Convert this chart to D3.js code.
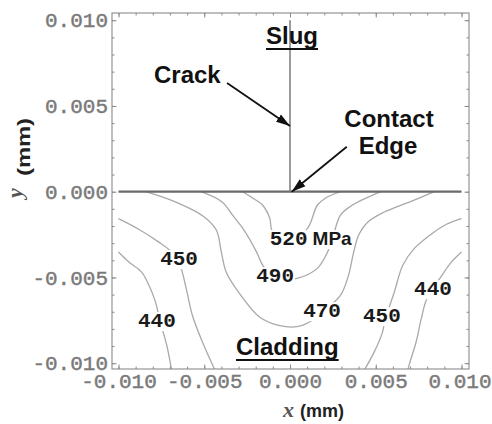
<!DOCTYPE html>
<html><head><meta charset="utf-8">
<script src="https://cdn.jsdelivr.net/npm/d3@7"></script>
<style>body{margin:0;background:#fff}</style>
</head><body><svg id="c" width="492" height="424"></svg>
<script>
// ---- data (mm) ----
const xTickValues = [-0.010, -0.005, 0.000, 0.005, 0.010];
const yTickValues = [-0.010, -0.005, 0.000, 0.005, 0.010];
const minorTickValues = d3.range(-10, 11).map(i => i / 1000);
const contourLevels = [440, 450, 470, 490, 520];

const contour440L = [[-0.0100,-0.00352],[-0.00941,-0.00409],[-0.00865,-0.00469],[-0.00818,-0.00556],[-0.00784,-0.00644],[-0.00765,-0.00722],[-0.00747,-0.00792],[-0.00718,-0.00898],[-0.00688,-0.01054]];
const contour450L = [[-0.0100,-0.00157],[-0.00882,-0.00219],[-0.00765,-0.00294],[-0.00694,-0.00348],[-0.00647,-0.00412],[-0.00628,-0.00469],[-0.00600,-0.00588],[-0.00569,-0.00722],[-0.00510,-0.00878],[-0.00431,-0.01054]];
const contour470 = [[-0.00841,0],[-0.00665,-0.00061],[-0.00500,-0.00147],[-0.00429,-0.00225],[-0.00400,-0.00354],[-0.00371,-0.00471],[-0.00294,-0.00594],[-0.00176,-0.00732],[-0.00059,-0.00781],[0.00041,-0.00787],[0.00129,-0.00751],[0.00206,-0.00687],[0.00294,-0.00605],[0.00341,-0.00488],[0.00371,-0.00354],[0.00400,-0.00254],[0.00453,-0.00178],[0.00547,-0.00120],[0.00706,-0.00056],[0.00841,0]];
const contour490 = [[-0.00518,0],[-0.00394,-0.00061],[-0.00335,-0.00137],[-0.00276,-0.00213],[-0.00194,-0.00354],[-0.00165,-0.00418],[-0.00118,-0.00488],[-0.00041,-0.00512],[0.00041,-0.00506],[0.00159,-0.00447],[0.00218,-0.00354],[0.00253,-0.00254],[0.00294,-0.00137],[0.00353,-0.00085],[0.00529,0]];
const contour520 = [[-0.00276,0],[-0.00206,-0.00044],[-0.00159,-0.00079],[-0.00118,-0.00155],[-0.00106,-0.00225],[-0.00059,-0.00272],[0.00029,-0.00272],[0.00106,-0.00208],[0.00159,-0.00079],[0.00206,-0.00038],[0.00294,0]];
const contour450R = [[0.0100,-0.00157],[0.00912,-0.00190],[0.00841,-0.00235],[0.00724,-0.00332],[0.00657,-0.00430],[0.00608,-0.00586],[0.00578,-0.00674],[0.00553,-0.00751],[0.00539,-0.00820],[0.00490,-0.00937],[0.00431,-0.01044]];
const contour440R = [[0.0100,-0.00352],[0.00941,-0.00411],[0.00872,-0.00508],[0.00835,-0.00564],[0.00794,-0.00635],[0.00765,-0.00742],[0.00735,-0.00878],[0.00696,-0.01005],[0.00685,-0.01050]];
const contours = [contour440L, contour450L, contour470, contour490, contour520, contour450R, contour440R];

const labelValues = [440, 450, 490, 470, 450, 440, 520];
const labelX = [-0.00776, -0.00647, -0.00087, 0.00187, 0.00536, 0.00834, -0.00118];
const labelY = [-0.00748, -0.00387, -0.00486, -0.00690, -0.00719, -0.00562, -0.00270];

// ---- layout ----
const svg = d3.select("#c");
const frame = {l: 112, r: 469, t: 13, b: 369};
const x = d3.scaleLinear().domain([-0.010, 0.010]).range([118.5, 461.5]);
const y = d3.scaleLinear().domain([-0.010, 0.010]).range([363.2, 20.2]);
const gray = "#8a8a8a";

const defs = svg.append("defs");
defs.append("clipPath").attr("id","clip")
  .append("rect").attr("x",frame.l).attr("y",frame.t).attr("width",frame.r-frame.l).attr("height",frame.b-frame.t);
const mk = defs.append("marker").attr("id","arr")
  .attr("markerUnits","userSpaceOnUse").attr("markerWidth",16).attr("markerHeight",10)
  .attr("refX",14).attr("refY",5).attr("orient","auto");
mk.append("path").attr("d","M0,0.5 L14,5 L0,9.5 Z").attr("fill","#111");

// contours
const line = d3.line().x(d => x(d[0])).y(d => y(d[1])).curve(d3.curveCatmullRom.alpha(0.5));
svg.append("g").attr("clip-path","url(#clip)").selectAll("path").data(contours).join("path")
  .attr("d", line).attr("fill","none").attr("stroke","#a9a9a9").attr("stroke-width",1.3);

// contact surface and crack
svg.append("line").attr("x1",x(-0.010)).attr("x2",x(0.010)).attr("y1",y(0)).attr("y2",y(0))
  .attr("stroke","#6a6a6a").attr("stroke-width",2.2);
svg.append("line").attr("x1",x(0)).attr("x2",x(0)).attr("y1",y(0)).attr("y2",y(0.010))
  .attr("stroke","#7a7a7a").attr("stroke-width",1.5);

// frame
svg.append("rect").attr("x",frame.l).attr("y",frame.t).attr("width",frame.r-frame.l).attr("height",frame.b-frame.t)
  .attr("fill","none").attr("stroke",gray).attr("stroke-width",1.1);

// axes (ticks inside)
function styleAxis(g){ g.select(".domain").remove(); g.selectAll(".tick line").attr("stroke",gray);
  g.selectAll("text").attr("font-family","'Liberation Mono', monospace").attr("font-size",21)
    .attr("fill","#7a7a7a").attr("stroke","#7a7a7a").attr("stroke-width",0.45); }
const fmt = d => d.toFixed(3);
const axes = [
  [() => d3.axisBottom(x), `translate(0,${frame.b})`, true, xTickValues],
  [() => d3.axisTop(x), `translate(0,${frame.t})`, false, xTickValues],
  [() => d3.axisLeft(y), `translate(${frame.l},0)`, true, yTickValues],
  [() => d3.axisRight(y), `translate(${frame.r},0)`, false, yTickValues]
];
axes.forEach(([mkAx, tr, lab, vals]) => {
  svg.append("g").attr("transform",tr).call(mkAx().tickValues(minorTickValues).tickSize(-2.5).tickSizeOuter(0).tickFormat("")).call(styleAxis);
  const g = svg.append("g").attr("transform",tr).call(mkAx().tickValues(vals).tickSize(-4.5).tickSizeOuter(0).tickPadding(lab?4:0).tickFormat(lab?fmt:"")).call(styleAxis);
  if (lab && tr.startsWith("translate(0")) g.selectAll(".tick text").filter(d => d === 0.010).attr("dx", -2);
});

// contour labels
const lg = svg.append("g");
labelValues.forEach((v,i) => {
  const g = lg.append("g");
  const t = g.append("text").attr("x", x(labelX[i])).attr("y", y(labelY[i])).attr("dy","0.34em")
    .attr("text-anchor", v === 520 ? "start" : "middle")
    .attr("font-family","'Liberation Mono', monospace").attr("font-weight","bold").attr("font-size",21).attr("fill","#1a1a1a");
  t.append("tspan").text(v);
  if (v === 520) t.append("tspan").attr("font-family","'Liberation Sans', Arial, sans-serif").attr("font-size",19).attr("dx",5).text("MPa");
  const b = t.node().getBBox();
  g.insert("rect","text").attr("x",b.x-1).attr("y",b.y+2).attr("width",b.width+2).attr("height",b.height-4).attr("fill","#fff");
});

// annotations
const sans = "'Liberation Sans', Arial, sans-serif";
function ann(txt, px, py, anchor, underline){
  const t = svg.append("text").attr("x",px).attr("y",py).attr("text-anchor",anchor)
    .attr("font-family",sans).attr("font-weight","bold").attr("font-size",24).attr("fill","#111").text(txt);
  if (underline){ const b = t.node().getBBox();
    svg.append("line").attr("x1",b.x).attr("x2",b.x+b.width).attr("y1",py+5).attr("y2",py+5).attr("stroke","#111").attr("stroke-width",2); }
}
ann("Slug", 266, 44, "start", true);
ann("Crack", 154, 82.5, "start", false);
ann("Contact", 389, 126.5, "middle", false);
ann("Edge", 388, 154, "middle", false);
ann("Cladding", 236, 355, "start", true);

svg.append("line").attr("x1",x(-0.00367)).attr("y1",y(0.00634)).attr("x2",x(0)).attr("y2",y(0.00383))
  .attr("stroke","#111").attr("stroke-width",1.8).attr("marker-end","url(#arr)");
svg.append("line").attr("x1",x(0.00331)).attr("y1",y(0.00262)).attr("x2",x(0.0001)).attr("y2",y(0))
  .attr("stroke","#111").attr("stroke-width",1.8).attr("marker-end","url(#arr)");

// axis titles
const xt = svg.append("text").attr("x",283).attr("y",417);
xt.append("tspan").attr("font-family","'Liberation Serif', serif").attr("font-style","italic").attr("font-weight","bold").attr("font-size",22).attr("fill","#555").text("x");
xt.append("tspan").attr("font-family",sans).attr("font-weight","bold").attr("font-size",18).attr("fill","#222").attr("dx",6).text("(mm)");
svg.append("text").attr("transform","translate(22,198) rotate(-90)")
  .attr("font-family","'Liberation Serif', serif").attr("font-style","italic").attr("font-weight","bold").attr("font-size",22).attr("fill","#555").text("y");
svg.append("text").attr("transform","translate(30,176) rotate(-90)")
  .attr("font-family",sans).attr("font-weight","bold").attr("font-size",19).attr("fill","#222")
  .attr("textLength",58).attr("lengthAdjust","spacingAndGlyphs").text("(mm)");
</script></body></html>
